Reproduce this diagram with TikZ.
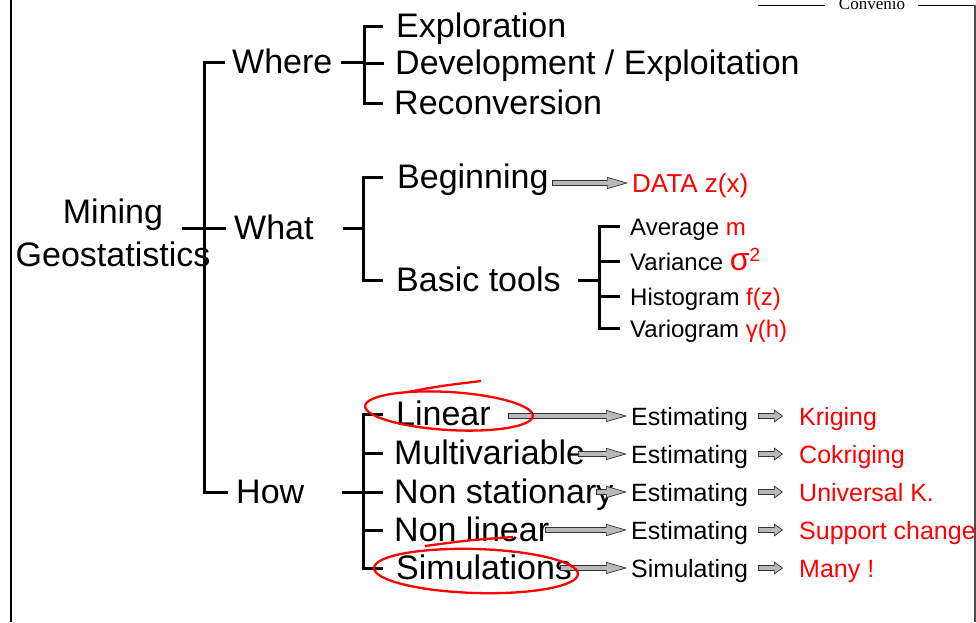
\documentclass[tikz,border=0pt]{standalone}
\usepackage{fontspec}
\setmainfont{Liberation Sans}
\newfontfamily\convfont{Liberation Serif}
\usetikzlibrary{arrows.meta}

\begin{document}
\begin{tikzpicture}[x=1pt,y=-1pt,
  big_node/.style={anchor=west,inner sep=0pt,font=\fontsize{34}{40}\selectfont,text height=30pt,text depth=7pt},
  small_node/.style={anchor=west,inner sep=0pt,font=\fontsize{25}{30}\selectfont,text height=25pt,text depth=7pt},
  red_node/.style={small_node,text=red},
  branch/.style={line width=3pt},
  fat_arrow/.style={draw=black!80,line width=5.5pt,shorten >=4pt,
    -{Triangle[length=21pt,width=12pt,line width=0.7pt,fill=gray!55]},
    postaction={draw=gray!55,line width=3.5pt,-,shorten <=1pt,shorten >=23pt}},
  small_arrow/.style={draw=black!80,line width=6pt,
    -{Triangle[length=9pt,width=13pt,line width=0.7pt,fill=gray!55]},
    postaction={draw=gray!55,line width=4pt,-,shorten <=1pt,shorten >=8pt}},
  ink/.style={draw=red,line width=2.3pt}]

     \useasboundingbox (0,0) rectangle (976,622);

     % slide frame
     \node[font=\convfont\fontsize{17}{17}\selectfont,anchor=base,inner sep=0pt] (conv) at (872,9) {Convenio};
     \draw[line width=0.8pt] (758,5) -- (825,5) (918,5) -- (975,5);
     \draw[line width=1.2pt] (11,0) -- (11,622);
     \draw[draw=black!70,line width=3pt] (975,5) -- (975,622);

     % root and first level
     \node[align=center,inner sep=0pt,font=\fontsize{34}{43}\selectfont] (mining) at (113,233) {Mining\\Geostatistics};
     \node[big_node] (where) at (232,62) {Where};
     \node[big_node] (what) at (234,228) {What};
     \node[big_node] (how) at (236,492) {How};

     \coordinate (spine0) at (204,0);
     \draw[branch] ([xshift=-7pt]where.west) -| (spine0 |- how.west) -- ([xshift=-8pt]how.west);
     \draw[branch] ([xshift=-22pt]spine0 |- what.west) -- ([xshift=-8pt]what.west);

     % where
     \node[big_node] (explo) at (396,26) {Exploration};
     \node[big_node] (devel) at (395,63) {Development / Exploitation};
     \node[big_node] (recon) at (394,103) {Reconversion};

     \coordinate (spine1) at (364,0);
     \draw[branch] ([xshift=8pt]where.east) -- (spine1 |- where.east);
     \draw[branch] ([xshift=-13pt]explo.west) -| (spine1 |- recon.west) -- ([xshift=-11pt]recon.west);
     \draw[branch] (spine1 |- devel.west) -- ([xshift=-11pt]devel.west);

     % what
     \node[big_node] (begin) at (397,177) {Beginning};
     \node[big_node] (tools) at (396,280) {Basic tools};
     \node[red_node,font=\fontsize{26}{30}\selectfont] (data) at (632,183) {DATA z(x)};

     \coordinate (spine2) at (363,0);
     \draw[branch] ([xshift=29pt]what.east) -- (spine2 |- what.west);
     \draw[branch] ([xshift=-14pt]begin.west) -| (spine2 |- tools.west) -- ([xshift=-13pt]tools.west);
     \draw[fat_arrow] ([xshift=3pt]begin.east |- data.west) -- (data.west);

     \node[small_node,font=\fontsize{24}{30}\selectfont] (avg) at (630,226) {Average \textcolor{red}{m}};
     \node[small_node,font=\fontsize{24}{30}\selectfont] (var) at (630,261) {Variance \textcolor{red}{\fontsize{32}{32}\selectfont σ\raisebox{9pt}{\fontsize{19}{19}\selectfont 2}}};
     \node[small_node,font=\fontsize{24}{30}\selectfont] (hist) at (630,296) {Histogram \textcolor{red}{f(z)}};
     \node[small_node,font=\fontsize{24}{30}\selectfont] (vario) at (630,328) {Variogram \textcolor{red}{γ(h)}};

     \coordinate (spine3) at (599,0);
     \draw[branch] ([xshift=17pt]tools.east) -- (spine3 |- tools.west);
     \draw[branch] ([xshift=-10pt]avg.west) -| (spine3 |- vario.west) -- ([xshift=-10pt]vario.west);
     \draw[branch] (spine3 |- var.west) -- ([xshift=-10pt]var.west);
     \draw[branch] (spine3 |- hist.west) -- ([xshift=-10pt]hist.west);

     % how
     \node[big_node] (lin) at (396,414) {Linear};
     \node[big_node] (multi) at (394,453) {Multivariable};
     \node[big_node] (nonst) at (394,492) {Non stationary};
     \node[big_node] (nonlin) at (394,530) {Non linear};
     \node[big_node] (simul) at (396,568) {Simulations};

     \coordinate (spine4) at (363,0);
     \draw[branch] ([xshift=38pt]how.east) -- (spine4 |- how.west);
     \draw[branch] ([xshift=-13pt]lin.west) -| (spine4 |- simul.west) -- ([xshift=-13pt]simul.west);
     \foreach \n in {multi,nonst,nonlin}
       \draw[branch] (spine4 |- \n.west) -- ([xshift=-11pt]\n.west);

     \node[small_node] (est1) at (631,416) {Estimating};
     \node[small_node] (est2) at (631,454) {Estimating};
     \node[small_node] (est3) at (631,492) {Estimating};
     \node[small_node] (est4) at (631,530) {Estimating};
     \node[small_node] (est5) at (631,568) {Simulating};

     \node[red_node] (res1) at (799,416) {Kriging};
     \node[red_node] (res2) at (799,454) {Cokriging};
     \node[red_node] (res3) at (799,492) {Universal K.};
     \node[red_node] (res4) at (799,530) {Support change};
     \node[red_node] (res5) at (799,568) {Many !};

     \draw[fat_arrow] ([xshift=17pt]lin.east |- est1.west) -- (est1.west);
     \draw[fat_arrow] ([xshift=-7pt]multi.east |- est2.west) -- (est2.west);
     \draw[fat_arrow] ([xshift=-18pt]nonst.east |- est3.west) -- (est3.west);
     \draw[fat_arrow] ([xshift=-4pt]nonlin.east |- est4.west) -- (est4.west);
     \draw[fat_arrow] ([xshift=-12pt]simul.east |- est5.west) -- (est5.west);

     \foreach \i in {1,...,5}
       \draw[small_arrow] ([xshift=10pt]est\i.east) -- ([xshift=-16pt]res\i.west);

     % red marks by hand
     \draw[ink,rotate around={-3.4:(449,411)}] (449,411) ellipse [x radius=84, y radius=19];
     \draw[ink] (408,392) .. controls (440,386) .. (481,381);
     \draw[ink,rotate around={-1.7:(476,571)}] (476,571) ellipse [x radius=102, y radius=22];
     \draw[ink] (425,546) .. controls (470,540) .. (513,537);

\end{tikzpicture}
\end{document}
